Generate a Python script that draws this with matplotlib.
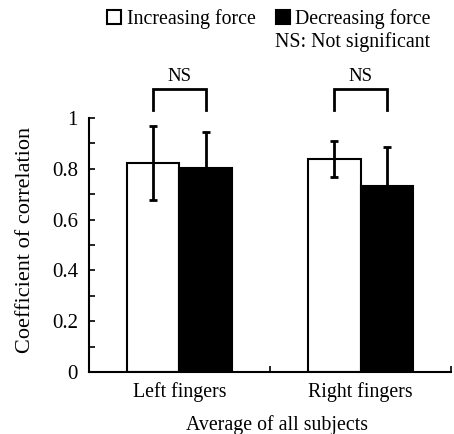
import matplotlib
matplotlib.use("Agg")
import matplotlib.pyplot as plt
from matplotlib.patches import Rectangle
import numpy as np

groups = ["Left fingers", "Right fingers"]
increasing = [0.823, 0.838]
increasing_err = [0.147, 0.070]
decreasing = [0.803, 0.732]
decreasing_err = [0.142, 0.155]
yticks = [0, 0.2, 0.4, 0.6, 0.8, 1.0]
ytick_labels = ["0", "0.2", "0.4", "0.6", "0.8", "1"]

plt.rcParams["font.family"] = ["Liberation Serif", "DejaVu Serif"]
plt.rcParams["font.size"] = 14.3

fig = plt.figure(figsize=(4.54, 4.34), dpi=100)
ax = fig.add_axes([89 / 454, 62 / 434, 362 / 454, 254 / 434])

x = np.arange(1, len(groups) + 1)
w = 0.288
ekw = dict(ecolor="black", elinewidth=2, capsize=3, capthick=2)
ax.bar(x - w / 2, increasing, w, color="white", edgecolor="black", linewidth=1.5,
       yerr=increasing_err, error_kw=ekw, zorder=2)
ax.bar(x + w / 2, decreasing, w, color="black", edgecolor="black", linewidth=1.5,
       yerr=decreasing_err, error_kw=ekw, zorder=2)

ax.set_xlim(0.5, 2.5)
ax.set_ylim(0, 1)
for s in ["top", "right"]:
    ax.spines[s].set_visible(False)
for s in ["left", "bottom"]:
    ax.spines[s].set_linewidth(1.5)

ax.set_yticks(np.round(np.arange(0, 1.01, 0.1), 2), minor=True)
ax.set_yticks(yticks)
ax.set_yticklabels(ytick_labels, fontsize=15)
ax.set_xticks(x)
ax.set_xticklabels(groups)
ax.set_xticks([1.5, 2.5], minor=True)
ax.tick_params(axis="y", which="both", direction="in", length=4, width=1.2, pad=8)
ax.tick_params(axis="x", which="major", length=0, pad=7)
ax.tick_params(axis="x", which="minor", direction="in", length=4, width=1.2)

ax.set_ylabel("Coefficient of correlation", fontsize=16)
ax.yaxis.set_label_coords(-0.15, 0.52)
ax.set_xlabel("Average of all subjects", labelpad=8)
ax.xaxis.set_label_coords(0.52, -0.17)

# significance brackets above each pair
for xi in x:
    xl, xr = xi - w / 2, xi + w / 2
    ax.plot([xl, xl, xr, xr], [1.03, 1.115, 1.115, 1.03], color="black",
            linewidth=2, clip_on=False, solid_joinstyle="miter")
    ax.text(xi, 1.13, "NS", ha="center", va="bottom", fontsize=13.5)

handles = [Rectangle((0, 0), 1, 1, facecolor="white", edgecolor="black", linewidth=1.5),
           Rectangle((0, 0), 1, 1, facecolor="black", edgecolor="black", linewidth=1.5)]
fig.legend(handles, ["Increasing force", "Decreasing force"], ncol=2, frameon=False,
           loc="center right", bbox_to_anchor=(431 / 454, 1 - 19 / 434),
           handlelength=0.7, handleheight=0.7, handletextpad=0.3, columnspacing=1.0,
           borderpad=0, borderaxespad=0)
fig.text(430 / 454, 1 - 42 / 434, "NS: Not significant", ha="right", va="center")

fig.savefig("out.png", dpi=100)
